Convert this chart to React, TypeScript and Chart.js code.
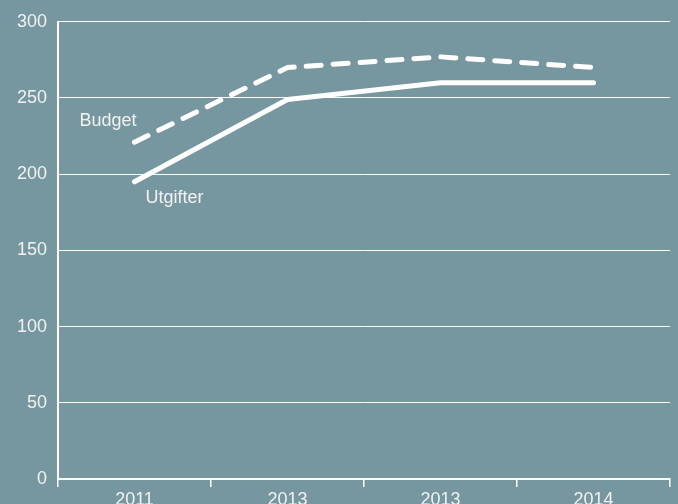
import React, { useEffect, useRef } from "react";
import { Chart, registerables } from "chart.js";

Chart.register(...registerables);

const categories = ["2011", "2013", "2013", "2014"];
const budget = [221, 270, 277, 270];
const utgifter = [195, 249, 260, 260];
const yTicks = [0, 50, 100, 150, 200, 250, 300];

const BG = "#76979f";
const FONT = "'Liberation Sans', Arial, sans-serif";

const labelPlugin = {
  id: "seriesLabels",
  afterDatasetsDraw(chart: any) {
    const { ctx, scales } = chart;
    const x0 = scales.x.getPixelForValue(0);
    const yb = scales.y.getPixelForValue(budget[0]);
    const yu = scales.y.getPixelForValue(utgifter[0]);
    ctx.save();
    ctx.fillStyle = "#f2f2f2";
    ctx.font = `18px ${FONT}`;
    ctx.textBaseline = "middle";
    ctx.textAlign = "right";
    ctx.fillText("Budget", x0 + 2, yb - 21);
    ctx.textAlign = "left";
    ctx.fillText("Utgifter", x0 + 11, yu + 16);
    ctx.restore();
  },
};

export default function App() {
  const ref = useRef<HTMLCanvasElement>(null);
  useEffect(() => {
    document.body.style.margin = "0";
    const chart = new Chart(ref.current!, {
      type: "line",
      data: {
        labels: categories,
        datasets: [
          {
            label: "Budget",
            data: budget,
            borderColor: "#ffffff",
            borderWidth: 5,
            borderDash: [15, 12],
            borderCapStyle: "round",
            borderJoinStyle: "round",
            pointRadius: 0,
            tension: 0,
            fill: false,
          },
          {
            label: "Utgifter",
            data: utgifter,
            borderColor: "#ffffff",
            borderWidth: 5,
            borderCapStyle: "round",
            borderJoinStyle: "round",
            pointRadius: 0,
            tension: 0,
            fill: false,
          },
        ],
      },
      options: {
        animation: false,
        responsive: false,
        maintainAspectRatio: false,
        layout: { padding: { top: 18, right: 8, left: 0, bottom: 0 } },
        plugins: {
          legend: { display: false },
          tooltip: { enabled: false },
        },
        scales: {
          x: {
            type: "category",
            offset: true,
            grid: {
              offset: true,
              drawOnChartArea: false,
              drawTicks: true,
              tickLength: 8,
              color: "#ffffff",
              lineWidth: 1.5,
            },
            border: { display: true, color: "#ffffff", width: 2 },
            ticks: {
              color: "#f2f2f2",
              font: { family: FONT, size: 18 },
              padding: 2,
              maxRotation: 0,
              autoSkip: false,
            },
            afterFit(scale: any) {
              scale.height = 25;
            },
          },
          y: {
            min: 0,
            max: 300,
            afterBuildTicks(scale: any) {
              scale.ticks = yTicks.map((v) => ({ value: v }));
            },
            grid: {
              color: "#ffffff",
              lineWidth: 1,
              drawTicks: false,
            },
            border: { display: true, color: "#ffffff", width: 2 },
            ticks: {
              color: "#f2f2f2",
              font: { family: FONT, size: 18 },
              padding: 11,
            },
            afterFit(scale: any) {
              scale.width = 58;
            },
          },
        },
      },
      plugins: [labelPlugin],
    } as any);
    return () => chart.destroy();
  }, []);
  return (
    <div style={{ width: 678, height: 504, background: BG, position: "relative", overflow: "hidden" }}>
      <canvas ref={ref} width={678} height={504} style={{ display: "block" }} />
    </div>
  );
}
